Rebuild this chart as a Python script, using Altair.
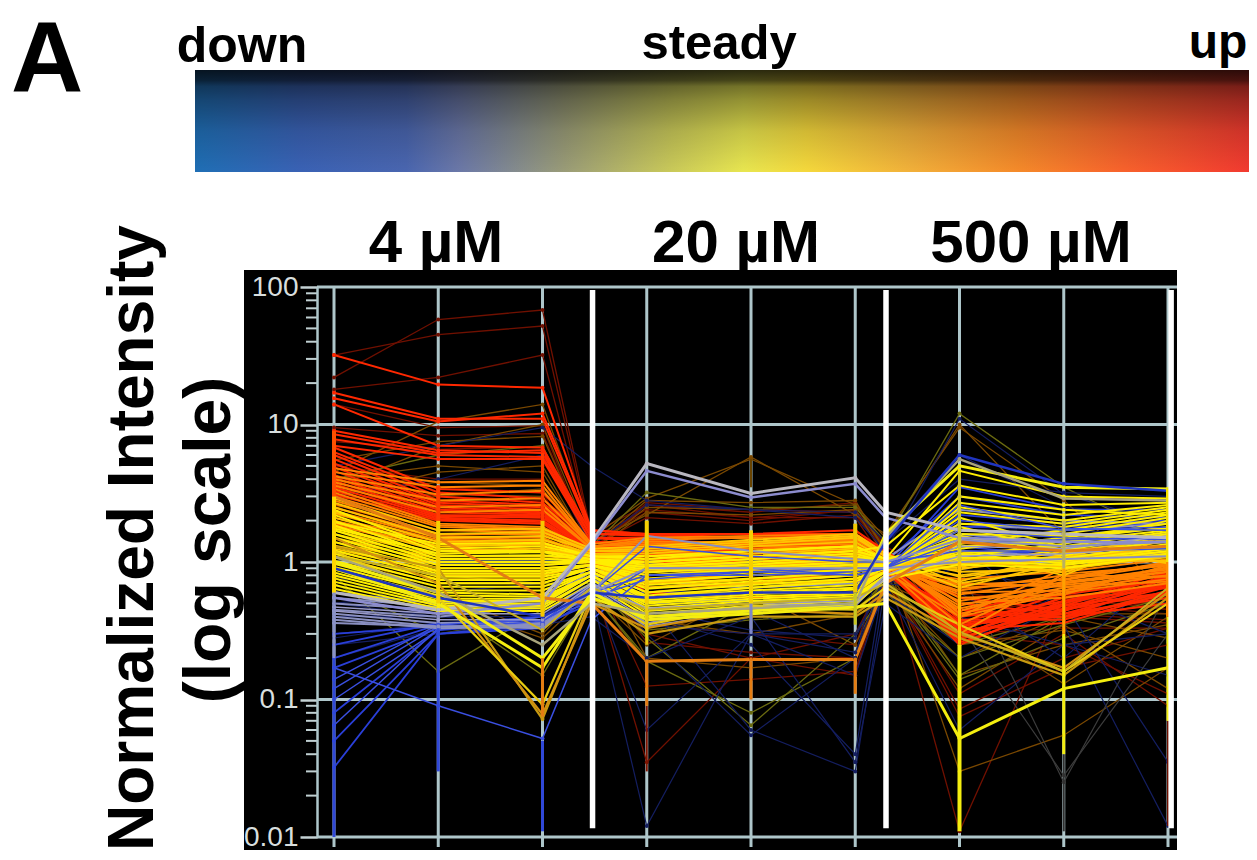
import altair as alt
import pandas as pd

# column order: 4uM x3, separator, 20uM x3, separator, 500uM x3
col_pos = [0, 1, 2, 2.47, 3, 4, 5, 5.29, 6, 7, 8]
sep_idx = [3, 7]
decades = [0.01, 0.1, 1, 10, 100]
minor = [0.02,0.03,0.04,0.05,0.06,0.07,0.08,0.09,0.2,0.3,0.4,0.5,0.6,0.7,0.8,0.9,
         2,3,4,5,6,7,8,9,20,30,40,50,60,70,80,90]
columns = [0,1,2,3,4,5,6,7,8]
separators = [2.48, 5.295, 8.03]

dark_red = [
 [22,58,68,1.6,2.6,2.3,2.7,1.3,.65,.55,.45],[32,45,52,1.5,2.4,2.1,2.4,1.3,.6,.48,.42],
 [18,22,32,1.4,2.3,2.0,2.4,1.2,.45,.42,.38],[9.5,8.3,8.6,1.3,2.1,1.9,2.2,1.2,.5,.4,.36],
 [14,9.5,9.8,1.2,2.7,2.4,2.3,1.1,.3,.33,.33],[7.5,6.6,6.9,1.2,2.6,2.1,2.1,1.0,.011,.55,.5],
 [5,4,4,.9,.125,.14,.16,.9,.45,.5,.5],[4,3.5,3.2,.8,.035,.2,.3,.8,.7,.6,.45],
 [3.5,3,2.8,.8,.3,.2,.15,.8,.075,.17,.25],[3,2.4,2.5,.9,.26,.22,.2,.8,.085,.2,.33],
 [2.6,2.2,2.1,.9,.35,.3,.25,.9,.3,.25,.11],[2.4,2.0,2.2,.9,.5,.45,.5,.8,.11,.3,.09],
]
brown = [
 [4.5,10.5,14,1.5,2.9,5.6,2.6,1.5,10,1.6,.9],[3.5,7,10,1.4,2.2,5.8,2.2,1.6,9.5,2.8,.6],
 [5.5,7.5,8.2,1.3,2.8,2.7,2.8,1.2,.55,.55,.5],[3,4.5,5,1.2,2.3,2.2,2.4,1.1,.03,.055,.17],
 [2.5,3,3.4,1.1,.2,.17,.2,.9,.15,.25,.35],[1.2,.6,.3,.7,.3,.5,.7,.7,.12,.35,.12],
 [.9,.5,.28,.6,.25,.6,.25,.7,.4,.13,.4],[4,5,4.5,1.2,2.5,2.4,2.6,1.2,.3,.42,.42],
 [3.2,3.8,3.6,1.1,.45,.5,.55,.7,.2,.4,.28],[2.9,3.1,3,1,.38,.3,.42,.7,.25,.32,.2],
]
olive = [
 [1,.5,.15,.6,.2,.5,.6,.8,.15,.4,.6],[.8,.16,.45,.6,.19,.08,.2,.7,.3,.5,.7],
 [4,6,7,1.3,3.2,2.5,2.5,1.4,12,3.5,1.5],[.7,.3,.4,.7,.28,.065,.3,.6,.2,.35,.55],
 [1.1,.8,.7,.7,.4,.42,.45,.7,.25,.4,.5],[1.3,1.2,1.2,.8,.32,.38,.42,.75,.14,.28,.5],
]
navy = [
 [5,7,9.5,5,2.8,2.4,2.1,1.2,11,3.1,1.9],[.3,.35,.4,.6,.012,.3,.3,.7,.9,.6,.5],
 [.4,.4,.4,.9,.3,.055,.2,.6,.25,.6,.3],[.5,.4,.35,.4,.2,.4,.035,.5,.2,.5,.035],
 [.6,.45,.5,.7,.06,.3,.15,.7,.6,.2,.9],[.45,.35,.4,.8,.4,.25,.04,.9,1.3,.35,.012],
 [.3,.35,.4,.7,.5,.06,.03,.7,.06,.25,.3],[.25,.3,.38,.6,.5,.45,.2,1.5,6,2.5,2.2],
 [3,4,6,1.3,2.6,2.4,2.3,1.4,4,3.2,3],[.2,.33,.36,.6,.45,.32,.28,.8,1.8,1.7,1.6],
 [.28,.36,.38,.7,.35,.3,.22,.8,.4,.25,.15],[.5,.6,.7,.9,.9,.8,.8,.9,1.5,1.6,1.5],
]
dark_gray = [[.8,.4,.5,.8,.7,.6,.7,.9,.9,.025,.6],[.9,.5,.55,.8,.75,.65,.7,.8,.35,.028,.3]]
red = [
 [32,19.5,18.5,1.7,1.6,1.6,1.7,1.2,.55,.45,.6],[17,11,11,1.6,1.55,1.5,1.6,1.2,.5,.42,.55],
 [15.5,10.5,12,1.7,1.6,1.6,1.6,1.1,.45,.4,.5],[14,7,6.8,1.6,1.6,1.5,1.5,1.1,.42,.4,.58],
 [9,6.5,6.2,1.5,1.5,1.5,1.45,1.1,.38,.38,.62],[8.5,6.2,6.5,1.5,1.4,1.4,1.5,1.0,.36,.42,.66],
 [7.8,6,5.8,1.5,1.45,1.35,1.4,1.0,.34,.45,.7],[7,5.6,5.6,1.4,1.35,1.3,1.35,1.0,.32,.36,.6],
 [6.8,3.4,3.2,1.4,1.3,1.35,1.3,.95,.3,.44,.72],[6.3,3.2,2.9,1.4,1.4,1.25,1.3,.95,.3,.5,.78],
 [6,3,2.7,1.4,1.3,1.2,1.25,.95,.28,.48,.8],[5.6,2.8,2.6,1.3,1.25,1.3,1.2,.9,.27,.52,.65],
 [5.2,2.7,2.5,1.3,1.2,1.2,1.3,.9,.26,.46,.75],[4.9,2.6,2.4,1.3,1.3,1.15,1.2,.9,.25,.5,.85],
 [4.6,2.5,2.3,1.3,1.15,1.1,1.15,.9,.32,.55,.68],[4.3,2.4,2.25,1.25,1.2,1.2,1.1,.9,.35,.4,.7],
 [4.1,2.3,2.2,1.25,1.1,1.1,1.2,.85,.37,.52,.76],[3.9,2.2,2.15,1.2,1.15,1.05,1.1,.85,.33,.6,.82],
 [3.7,2.15,2.1,1.2,1.05,1,1.05,.85,.29,.56,.66],[3.5,2.1,2,1.2,1.1,1.1,1,.85,.4,.48,.6],
 [3.3,2.05,1.95,1.15,1,1,1.05,.85,.42,.58,.74],[3.1,2,1.9,1.15,.6,.55,.6,.85,.44,.62,.88],
]
orange = [
 [4.8,3.8,3.9,1.35,1.5,1.55,1.6,1.15,.42,.62,.8],[4.5,3.5,3.6,1.3,1.45,1.5,1.5,1.1,.4,.6,.75],
 [4.2,3.1,3.3,1.3,1.4,1.4,1.45,1.1,.5,.55,.7],[4,2.8,2.9,1.3,1.35,1.4,1.4,1,.46,.65,.85],
 [3.8,2.5,2.6,1.25,1.3,1.35,1.35,1,.44,.7,.9],[3.6,2.3,2.4,1.25,1.25,1.3,1.3,1,.55,.58,.95],
 [3.4,1.9,1.8,1.2,1.2,1.25,1.3,1,.48,.72,.88],[3.2,1.85,1.75,1.2,1.15,1.2,1.25,.95,.52,.68,.8],
 [3,1.8,1.7,1.15,1.1,1.15,1.2,.95,.6,.62,.92],[2.8,1.7,1.65,1.15,1.05,1.1,1.15,.95,.58,.75,1],
 [2.65,1.6,1.6,1.1,1,1.05,1.1,.95,.35,.78,.98],[2.5,1.55,1.5,1.1,.95,1,1.05,.95,.65,.7,.85],
 [2.35,1.5,1.45,1.1,.9,.95,1,.9,.62,.8,.78],[2.25,1.45,1.4,1.05,.85,.9,.95,.9,.7,.66,.72],
 [2.1,1.4,1.35,1.05,.8,.85,.9,.9,.68,.74,.96],[2,1.35,1.3,1,.75,.8,.85,.9,.3,.82,.94],
 [1.9,1.3,1.25,1,.7,.75,.8,.9,.75,.85,1.05],[1.85,1.25,1.2,1,.65,.7,.72,.85,.4,.9,1.1],
]
amber = [
 [2.9,1.7,1.75,1.25,1.3,1.45,1.6,1.15,.7,.9,1.15],[2.7,1.6,1.65,1.2,1.25,1.4,1.55,1.1,.78,.95,1.2],
 [2.5,1.5,1.55,1.2,1.2,1.35,1.5,1.1,.85,.88,1.1],[2.3,1.4,1.45,1.15,1.15,1.3,1.4,1.05,.65,1,1.25],
 [2.1,1.3,1.35,1.15,1.1,1.2,1.3,1.05,.9,1.05,1.3],[1.95,1.2,1.25,1.1,1.05,1.15,1.25,1,.8,.98,1.35],
 [1.8,1.15,1.2,1.1,1,1.1,1.2,1,.95,1.1,1.18],[1.7,1.1,1.1,1.05,.95,1.05,1.15,1,.72,1.15,1.4],
 [1.6,1.05,1.05,1.05,.9,1,1.1,.95,1,.92,1.08],[1.5,1,1,1,.85,.95,1.05,.95,.88,1.2,1.45],
 [1.4,.95,.95,1,.8,.9,1,.95,1.05,1.02,1.02],[1.32,.9,.9,.95,.75,.85,.95,.9,.92,1.25,1],
 [1.25,.85,.85,.95,.7,.8,.9,.9,1.1,.84,1.5],[1.2,.8,.8,.95,.65,.75,.85,.9,1.15,1.3,.98],
 [1.15,.75,.75,.9,.6,.7,.8,.9,.98,1.08,1.55],[1.1,.7,.7,.9,.55,.65,.75,.85,1.2,.8,1.6],
]
yellow = [
 [2.4,1.25,1.3,1.1,1.05,1.2,1.3,1.05,1.3,1.4,1.7],[2.2,1.2,1.2,1.05,1,1.1,1.2,1.05,1.4,1.45,1.8],
 [2,1.1,1.12,1.05,.95,1.05,1.15,1,1.5,1.3,1.65],[1.85,1.05,1.06,1,.92,1,1.1,1,1.25,1.5,1.9],
 [1.7,1,1,1,.88,.96,1.05,1,1.6,1.55,1.75],[1.6,.95,.95,1,.84,.92,1,1,1.1,1.35,2],
 [1.5,.9,.9,.95,.8,.88,.96,.95,1.7,1.6,2.1],[1.4,.86,.86,.95,.76,.84,.92,.95,1.8,1.22,1.6],
 [1.3,.82,.82,.95,.72,.8,.88,.95,1.35,1.7,2.2],[1.22,.78,.78,.9,.68,.76,.84,.95,1.9,1.8,2.3],
 [1.15,.74,.74,.9,.64,.72,.8,.9,2.1,1.28,1.52],[1.08,.7,.7,.9,.6,.68,.76,.9,2.3,1.9,2.4],
 [1.02,.66,.66,.85,.57,.65,.72,.9,1.45,1.12,1.44],[.97,.62,.62,.85,.55,.62,.68,.85,2.5,2,2.5],
 [.92,.6,.58,.85,.53,.6,.65,.85,2.7,2.2,2.6],[.88,.57,.56,.8,.51,.58,.63,.85,1.55,1.18,1.3],
 [.84,.54,.54,.8,.5,.56,.6,.85,3,2.4,2.2],[.8,.52,.52,.8,.48,.54,.58,.8,1.2,1.02,1.25],
 [.76,.5,.5,.8,.46,.52,.56,.8,1.15,.98,1.2],[.72,.48,.48,.75,.44,.5,.54,.8,1.08,1.06,1.35],
 [.68,.46,.46,.75,.42,.48,.52,.8,1.02,.95,1.15],[.64,.44,.44,.7,.4,.46,.5,.75,.96,.9,1.12],
 [1.95,1.35,1.38,1.1,1.1,1.2,1.3,1.05,4.6,3,2.9],[1.75,1.15,1.18,1,1,1.1,1.2,1.3,3.6,2.6,2.7],
]
gray_under = [
 [.6,.5,.52,.85,.95,.95,.95,.95,1.2,1.1,1.25],[.55,.47,.5,.8,.72,.65,.7,.85,1.05,1.05,1.15],
 [.5,.45,.46,.75,.52,.52,.55,.8,1.05,1.0,1.02],[.42,.36,.36,.65,.36,.46,.5,.75,1.6,1.4,1.6],
 [.4,.34,.33,.62,.34,.44,.48,.8,1.9,1.7,1.9],[.45,.4,.48,.95,1.2,1.05,1.15,1.05,2.4,2,1.9],
]
gray_over = [
 [.47,.42,.42,.7,.46,.5,.52,.75,1.1,1.15,1.3],[.44,.38,.38,.68,.38,.48,.5,.8,1.3,1.25,1.55],
]
blue_under = [
 [.3,.34,.36,.7,.5,.5,.55,.8,1.3,1.1,1.1],[.25,.36,.38,.65,.55,.55,.6,.85,1.6,1.3,1.3],
 [.2,.35,.4,.6,.6,.6,.65,.85,1.8,1.8,1.9],[.17,.33,.36,.65,.65,.7,.7,.85,2.2,1.9,2],
 [.08,.32,.36,.6,1,.9,.85,.9,3.5,2.4,2.4],[.05,.3,.33,.55,.85,.88,.8,.9,1.1,1.25,1.2],
 [.032,.3,.35,.5,1,1,.95,1,3,2.2,2.1],
]
blue_over = [
 [.14,.35,.38,.55,.75,.85,.8,.9,2.6,1.75,1.7],[.12,.34,.35,.6,.8,.8,.85,.9,1.4,1.45,1.5],
 [.1,.32,.4,.5,.9,.9,.8,.9,1.7,1.5,1.45],[.065,.33,.37,.6,1.3,1.1,1,1,1.2,1.2,1.25],
 [.17,.09,.052,.38,.8,.85,.9,.9,2,1.7,1.8],
]
specials = [
 # values, colour, width
 ([.38,.33,.34,.6,.9,.9,.9,.9,1,1.05,1.1], "#8a8fc0", 2),
 ([.36,.34,.35,.6,1.55,1.2,1.05,1,1.45,1.3,1.4], "#8a8fc0", 2),
 ([.6,.45,.55,1.4,5.2,3.15,4.1,2.3,1.7,1.6,1.5], "#b9b7c0", 3),
 ([.55,.42,.5,1.35,4.6,2.95,3.7,2.1,1.5,1.4,1.4], "#8c8ccf", 2.5),
 ([3,1.5,.55,.5,.19,.195,.195,.7,1.4,1.2,1.3], "#e47d12", 3),
 ([1.3,.9,.072,.55,.3,.4,.4,.55,.28,.15,.55], "#c89a10", 2.2),
 ([1.5,.7,.078,.5,.33,.45,.42,.6,.3,.17,.6], "#d29010", 2.2),
 ([1.2,.55,.092,.6,.35,.48,.45,.65,.35,.16,.5], "#e8cc10", 2.2),
 ([1.1,.8,.32,.65,.45,.5,.55,.7,.31,.16,.65], "#c8b020", 2),
 ([.9,.5,.17,.6,.38,.42,.47,.5,.052,.12,.17], "#f4ee10", 3),
 ([1,.6,.2,.55,.4,.44,.5,1.6,5,3.5,3.4], "#f4ee10", 3),
 ([1.1,.6,.25,.5,.42,.46,.5,1.5,5.6,2.9,2.8], "#a9a57d", 2.5),
 ([.9,.55,.4,.6,.55,.6,.6,1.4,6,3.7,3.3], "#2035c0", 2.5),
]
stems = [
 # column, low, high, colour, width
 (0,.01,.2,"#3048d8",3),(0,.2,.6,"#8a92c8",3),(0,.6,3,"#ffd800",4),(0,3,9,"#ff5000",4),
 (1,.03,.33,"#3048d8",3),(1,.5,2,"#f6d000",4),(1,2,3.6,"#ff3c00",4),
 (2,.011,.05,"#3048d8",3),(2,.075,.2,"#e47d12",3),(2,.4,2,"#f6c800",4),(2,2,6.2,"#ff3a00",3),
 (3,.03,.09,"#801400",2),(3,.09,.19,"#e47d12",3),(3,.25,.5,"#e8cc10",3),(3,.5,2,"#f6d000",4),
 (4,.1,.19,"#e47d12",3),(4,.3,.5,"#8088c8",3),(4,.5,1.7,"#f6d000",4),(4,3.5,5.6,"#6a4400",2),
 (5,.11,.2,"#e47d12",3),(5,.35,.6,"#c8c820",3),(5,.6,1.9,"#f0c800",4),
 (6,.011,.25,"#f4ee10",4),(6,.25,1,"#ffc000",3),(6,1,4.5,"#d0c830",3),
 (7,.04,.3,"#f4ee10",3),(7,.3,.9,"#ffa000",3),(7,.9,2,"#b8b060",3),(7,.011,.04,"#303030",2),
 (8,.012,.07,"#701000",2),(8,.07,.4,"#f4ee10",3),(8,.4,1,"#ff9000",4),(8,1,3.4,"#f4e000",4),
]
bar_stops = [(0,"#1f6fb5"),(.1,"#3a62b5"),(.2,"#4a66b0"),(.25,"#6b78a8"),(.35,"#9a9c78"),(.45,"#c9c95a"),
             (.52,"#e8e650"),(.58,"#f5d83c"),(.68,"#f2b03a"),(.78,"#f58a2a"),(.88,"#f8622c"),(1,"#f23a30")]
shade_stops = [(0,"rgba(0,0,0,0.82)"),(.1,"rgba(0,0,0,0.7)"),(.16,"rgba(0,0,0,0.5)"),(.3,"rgba(0,0,0,0.36)"),
               (.6,"rgba(0,0,0,0.15)"),(1,"rgba(0,0,0,0)")]

families = [(dark_red,"#701000",1.3),(brown,"#7a4800",1.3),(olive,"#6a6a10",1.3),(navy,"#141e60",1.2),
            (dark_gray,"#3c3c3c",1.2),(blue_under,"#2a3fd8",1.8),(gray_under,"#8a8fc0",2),(red,"#ff2800",2),
            (orange,"#ff8200",1.9),(amber,"#ffc400",1.9),(yellow,"#ffee00",2),
            (blue_over,"#3a4fe0",1.5),(gray_over,"#9a9ac8",1.5)]
recs = []
n = 0
def add(row, color, width):
    global n
    for i, v in enumerate(row):
        recs.append({"id": n, "i": i, "x": col_pos[i], "v": v, "c": color, "w": width, "pt": i not in sep_idx})
    n += 1
for rows, c, w in families:
    for r in rows:
        add(r, c, w)
for r, c, w in specials:
    add(r, c, w)
df = pd.DataFrame(recs)

xs = alt.Scale(domain=[0, 8], range=[326, 1160], nice=False, zero=False)
ys = alt.Scale(type="log", domain=[0.01, 100], range=[829, 279], nice=False)
GRID = "#aec6ca"
y_axis = alt.Axis(values=decades, format="~g", title=None, offset=-309, tickSize=17, tickWidth=2.5, zindex=1,
                  tickColor="#c4d2d4", domainColor=GRID, domainWidth=2.5, grid=False, labelColor="#d8dede",
                  labelFontSize=28, labelFont="Liberation Sans", labelPadding=2, labelOverlap=False)
X = lambda f: alt.X(f, scale=xs, axis=None)
Y = lambda f: alt.Y(f, scale=ys, axis=y_axis)

background = alt.Chart(alt.Data(values=[{}])).mark_rect(color="black").encode(
    x=alt.value(236), x2=alt.value(1169), y=alt.value(262), y2=alt.value(842))
bar = alt.Chart(alt.Data(values=[{}])).mark_rect(
    color=alt.Gradient(gradient="linear", x1=0, x2=1, y1=0, y2=0,
                       stops=[alt.GradientStop(offset=o, color=c) for o, c in bar_stops])
).encode(x=alt.value(187), x2=alt.value(1242), y=alt.value(62), y2=alt.value(164))
shade = alt.Chart(alt.Data(values=[{}])).mark_rect(
    color=alt.Gradient(gradient="linear", x1=0, x2=0, y1=0, y2=1,
                       stops=[alt.GradientStop(offset=o, color=c) for o, c in shade_stops])
).encode(x=alt.value(187), x2=alt.value(1242), y=alt.value(62), y2=alt.value(164))

hgrid = alt.Chart(pd.DataFrame({"v": decades})).mark_rule(color=GRID, strokeWidth=3).encode(
    y=Y("v:Q"), x=alt.value(309), x2=alt.value(1169))
minor_ticks = alt.Chart(pd.DataFrame({"v": minor})).mark_rule(color="#c0d0d2", strokeWidth=2).encode(
    y=Y("v:Q"), x=alt.value(298), x2=alt.value(309))
vgrid = alt.Chart(pd.DataFrame({"x": columns})).mark_rule(color=GRID, strokeWidth=3).encode(
    x=X("x:Q"), y=alt.value(279), y2=alt.value(839))
lines = alt.Chart(df).mark_line(interpolate="linear", strokeCap="butt").encode(
    x=X("x:Q"), y=Y("v:Q"), detail="id:N", order="i:Q",
    color=alt.Color("c:N", scale=None), strokeWidth=alt.StrokeWidth("w:Q", scale=None))
points = alt.Chart(df[df.pt]).mark_circle(size=16, opacity=1).encode(
    x=X("x:Q"), y=Y("v:Q"), color=alt.Color("c:N", scale=None))
st = pd.DataFrame(stems, columns=["x", "lo", "hi", "c", "w"])
stem_layer = alt.Chart(st).mark_rule().encode(
    x=X("x:Q"), y=Y("lo:Q"), y2="hi:Q",
    color=alt.Color("c:N", scale=None), strokeWidth=alt.StrokeWidth("w:Q", scale=None))
sep_layer = alt.Chart(pd.DataFrame({"x": separators, "lo": [0.0116]*3, "hi": [95]*3})).mark_rule(
    color="white", strokeWidth=5.5).encode(x=X("x:Q"), y=Y("lo:Q"), y2="hi:Q")

def label(text, x, y, size, angle=0, weight="bold"):
    return alt.Chart(alt.Data(values=[{}])).mark_text(
        text=text, font="Liberation Sans", fontWeight=weight, fontSize=size, color="black",
        align="center", baseline="alphabetic", angle=angle).encode(x=alt.value(x), y=alt.value(y))

texts = [label("A", 39, 84, 100), label("down", 234, 54, 50), label("steady", 711, 51, 49), label("up", 1210, 50, 48),
         label("4 µM", 428, 254, 60), label("20 µM", 728, 254, 60), label("500 µM", 1023, 254, 60),
         label("Normalized Intensity", 145, 530, 64, angle=270), label("(log scale)", 222, 532, 66, angle=270)]

chart = alt.layer(background, bar, shade, hgrid, minor_ticks, vgrid, lines, points, stem_layer, sep_layer, *texts).properties(
    width=1241, height=844, padding=0, autosize=alt.AutoSizeParams(type="none"), background="white"
).configure_view(stroke=None)

chart.save("out.html", embed_options={"renderer": "svg", "actions": False})
